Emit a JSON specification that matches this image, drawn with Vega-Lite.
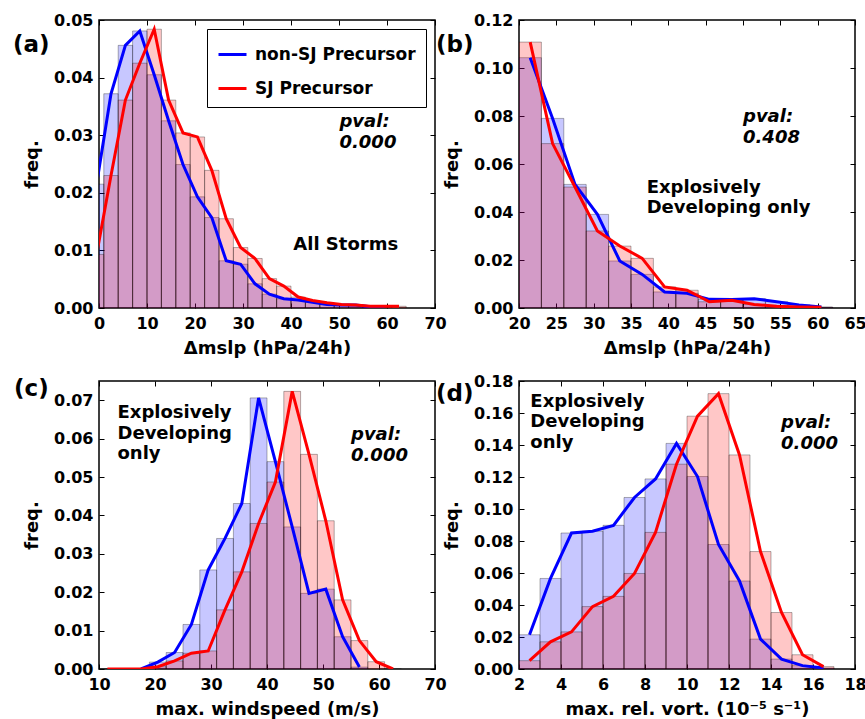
{
"$schema": "https://vega.github.io/schema/vega-lite/v6.json",
"padding": {"left": 12, "top": 11, "right": 2, "bottom": 2},
"columns": 2,
"bounds": "flush",
"spacing": {"row": 73, "column": 84},
"resolve": {"scale": {"color": "independent", "x": "independent", "y": "independent"}, "legend": {"color": "independent"}},
"datasets": {
"da": [
{"s":"non-SJ Precursor","b0":-2,"b1":1,"m":-0.5,"f":0.0215},
{"s":"non-SJ Precursor","b0":1,"b1":4,"m":2.5,"f":0.0372},
{"s":"non-SJ Precursor","b0":4,"b1":7,"m":5.5,"f":0.0456},
{"s":"non-SJ Precursor","b0":7,"b1":10,"m":8.5,"f":0.0481},
{"s":"non-SJ Precursor","b0":10,"b1":13,"m":11.5,"f":0.0405},
{"s":"non-SJ Precursor","b0":13,"b1":16,"m":14.5,"f":0.0325},
{"s":"non-SJ Precursor","b0":16,"b1":19,"m":17.5,"f":0.0249},
{"s":"non-SJ Precursor","b0":19,"b1":22,"m":20.5,"f":0.0193},
{"s":"non-SJ Precursor","b0":22,"b1":25,"m":23.5,"f":0.0157},
{"s":"non-SJ Precursor","b0":25,"b1":28,"m":26.5,"f":0.0082},
{"s":"non-SJ Precursor","b0":28,"b1":31,"m":29.5,"f":0.0076},
{"s":"non-SJ Precursor","b0":31,"b1":34,"m":32.5,"f":0.0042},
{"s":"non-SJ Precursor","b0":34,"b1":37,"m":35.5,"f":0.0024},
{"s":"non-SJ Precursor","b0":37,"b1":40,"m":38.5,"f":0.0016},
{"s":"non-SJ Precursor","b0":40,"b1":43,"m":41.5,"f":0.0014},
{"s":"non-SJ Precursor","b0":43,"b1":46,"m":44.5,"f":0.0010},
{"s":"non-SJ Precursor","b0":46,"b1":49,"m":47.5,"f":0.0006},
{"s":"non-SJ Precursor","b0":49,"b1":52,"m":50.5,"f":0.0005},
{"s":"non-SJ Precursor","b0":52,"b1":55,"m":53.5,"f":0.0005},
{"s":"non-SJ Precursor","b0":55,"b1":58,"m":56.5,"f":0.0002},
{"s":"non-SJ Precursor","b0":58,"b1":61,"m":59.5,"f":0.0001},
{"s":"SJ Precursor","b0":-2,"b1":1,"m":-0.5,"f":0.0093},
{"s":"SJ Precursor","b0":1,"b1":4,"m":2.5,"f":0.0230},
{"s":"SJ Precursor","b0":4,"b1":7,"m":5.5,"f":0.0361},
{"s":"SJ Precursor","b0":7,"b1":10,"m":8.5,"f":0.0425},
{"s":"SJ Precursor","b0":10,"b1":13,"m":11.5,"f":0.0484},
{"s":"SJ Precursor","b0":13,"b1":16,"m":14.5,"f":0.0361},
{"s":"SJ Precursor","b0":16,"b1":19,"m":17.5,"f":0.0304},
{"s":"SJ Precursor","b0":19,"b1":22,"m":20.5,"f":0.0297},
{"s":"SJ Precursor","b0":22,"b1":25,"m":23.5,"f":0.0239},
{"s":"SJ Precursor","b0":25,"b1":28,"m":26.5,"f":0.0155},
{"s":"SJ Precursor","b0":28,"b1":31,"m":29.5,"f":0.0105},
{"s":"SJ Precursor","b0":31,"b1":34,"m":32.5,"f":0.0086},
{"s":"SJ Precursor","b0":34,"b1":37,"m":35.5,"f":0.0051},
{"s":"SJ Precursor","b0":37,"b1":40,"m":38.5,"f":0.0038},
{"s":"SJ Precursor","b0":40,"b1":43,"m":41.5,"f":0.0019},
{"s":"SJ Precursor","b0":43,"b1":46,"m":44.5,"f":0.0013},
{"s":"SJ Precursor","b0":46,"b1":49,"m":47.5,"f":0.0009},
{"s":"SJ Precursor","b0":49,"b1":52,"m":50.5,"f":0.0006},
{"s":"SJ Precursor","b0":52,"b1":55,"m":53.5,"f":0.0005},
{"s":"SJ Precursor","b0":55,"b1":58,"m":56.5,"f":0.0003},
{"s":"SJ Precursor","b0":58,"b1":61,"m":59.5,"f":0.0003},
{"s":"SJ Precursor","b0":61,"b1":64,"m":62.5,"f":0.0003}
],
"db": [
{"s":"non-SJ Precursor","b0":20,"b1":23,"m":21.5,"f":0.1043},
{"s":"non-SJ Precursor","b0":23,"b1":26,"m":24.5,"f":0.0790},
{"s":"non-SJ Precursor","b0":26,"b1":29,"m":27.5,"f":0.0515},
{"s":"non-SJ Precursor","b0":29,"b1":32,"m":30.5,"f":0.0390},
{"s":"non-SJ Precursor","b0":32,"b1":35,"m":33.5,"f":0.0196},
{"s":"non-SJ Precursor","b0":35,"b1":38,"m":36.5,"f":0.0140},
{"s":"non-SJ Precursor","b0":38,"b1":41,"m":39.5,"f":0.0067},
{"s":"non-SJ Precursor","b0":41,"b1":44,"m":42.5,"f":0.0061},
{"s":"non-SJ Precursor","b0":44,"b1":47,"m":45.5,"f":0.0036},
{"s":"non-SJ Precursor","b0":47,"b1":50,"m":48.5,"f":0.0035},
{"s":"non-SJ Precursor","b0":50,"b1":53,"m":51.5,"f":0.0039},
{"s":"non-SJ Precursor","b0":53,"b1":56,"m":54.5,"f":0.0026},
{"s":"non-SJ Precursor","b0":56,"b1":59,"m":57.5,"f":0.0013},
{"s":"non-SJ Precursor","b0":59,"b1":62,"m":60.5,"f":0.0004},
{"s":"SJ Precursor","b0":20,"b1":23,"m":21.5,"f":0.1108},
{"s":"SJ Precursor","b0":23,"b1":26,"m":24.5,"f":0.0685},
{"s":"SJ Precursor","b0":26,"b1":29,"m":27.5,"f":0.0504},
{"s":"SJ Precursor","b0":29,"b1":32,"m":30.5,"f":0.0321},
{"s":"SJ Precursor","b0":32,"b1":35,"m":33.5,"f":0.0258},
{"s":"SJ Precursor","b0":35,"b1":38,"m":36.5,"f":0.0207},
{"s":"SJ Precursor","b0":38,"b1":41,"m":39.5,"f":0.0088},
{"s":"SJ Precursor","b0":41,"b1":44,"m":42.5,"f":0.0074},
{"s":"SJ Precursor","b0":44,"b1":47,"m":45.5,"f":0.0026},
{"s":"SJ Precursor","b0":47,"b1":50,"m":48.5,"f":0.0032},
{"s":"SJ Precursor","b0":50,"b1":53,"m":51.5,"f":0.0015},
{"s":"SJ Precursor","b0":53,"b1":56,"m":54.5,"f":0.0007},
{"s":"SJ Precursor","b0":56,"b1":59,"m":57.5,"f":0.0004},
{"s":"SJ Precursor","b0":59,"b1":62,"m":60.5,"f":0.0003}
],
"dc": [
{"s":"non-SJ Precursor","b0":16,"b1":19,"m":17.5,"f":0},
{"s":"non-SJ Precursor","b0":19,"b1":22,"m":20.5,"f":0.0018},
{"s":"non-SJ Precursor","b0":22,"b1":25,"m":23.5,"f":0.0043},
{"s":"non-SJ Precursor","b0":25,"b1":28,"m":26.5,"f":0.0116},
{"s":"non-SJ Precursor","b0":28,"b1":31,"m":29.5,"f":0.0258},
{"s":"non-SJ Precursor","b0":31,"b1":34,"m":32.5,"f":0.0340},
{"s":"non-SJ Precursor","b0":34,"b1":37,"m":35.5,"f":0.0431},
{"s":"non-SJ Precursor","b0":37,"b1":40,"m":38.5,"f":0.0706},
{"s":"non-SJ Precursor","b0":40,"b1":43,"m":41.5,"f":0.0540},
{"s":"non-SJ Precursor","b0":43,"b1":46,"m":44.5,"f":0.0370},
{"s":"non-SJ Precursor","b0":46,"b1":49,"m":47.5,"f":0.0197},
{"s":"non-SJ Precursor","b0":49,"b1":52,"m":50.5,"f":0.0208},
{"s":"non-SJ Precursor","b0":52,"b1":55,"m":53.5,"f":0.0084},
{"s":"non-SJ Precursor","b0":55,"b1":58,"m":56.5,"f":0.0005},
{"s":"SJ Precursor","b0":10,"b1":13,"m":11.5,"f":0},
{"s":"SJ Precursor","b0":13,"b1":16,"m":14.5,"f":0},
{"s":"SJ Precursor","b0":16,"b1":19,"m":17.5,"f":0},
{"s":"SJ Precursor","b0":19,"b1":22,"m":20.5,"f":0.0006},
{"s":"SJ Precursor","b0":22,"b1":25,"m":23.5,"f":0.0021},
{"s":"SJ Precursor","b0":25,"b1":28,"m":26.5,"f":0.0041},
{"s":"SJ Precursor","b0":28,"b1":31,"m":29.5,"f":0.0047},
{"s":"SJ Precursor","b0":31,"b1":34,"m":32.5,"f":0.0154},
{"s":"SJ Precursor","b0":34,"b1":37,"m":35.5,"f":0.0253},
{"s":"SJ Precursor","b0":37,"b1":40,"m":38.5,"f":0.0379},
{"s":"SJ Precursor","b0":40,"b1":43,"m":41.5,"f":0.0487},
{"s":"SJ Precursor","b0":43,"b1":46,"m":44.5,"f":0.0723},
{"s":"SJ Precursor","b0":46,"b1":49,"m":47.5,"f":0.0559},
{"s":"SJ Precursor","b0":49,"b1":52,"m":50.5,"f":0.0386},
{"s":"SJ Precursor","b0":52,"b1":55,"m":53.5,"f":0.0180},
{"s":"SJ Precursor","b0":55,"b1":58,"m":56.5,"f":0.0074},
{"s":"SJ Precursor","b0":58,"b1":61,"m":59.5,"f":0.0019},
{"s":"SJ Precursor","b0":61,"b1":64,"m":62.5,"f":0}
],
"dd": [
{"s":"non-SJ Precursor","b0":2,"b1":3,"m":2.5,"f":0.0214},
{"s":"non-SJ Precursor","b0":3,"b1":4,"m":3.5,"f":0.0566},
{"s":"non-SJ Precursor","b0":4,"b1":5,"m":4.5,"f":0.0850},
{"s":"non-SJ Precursor","b0":5,"b1":6,"m":5.5,"f":0.0861},
{"s":"non-SJ Precursor","b0":6,"b1":7,"m":6.5,"f":0.0898},
{"s":"non-SJ Precursor","b0":7,"b1":8,"m":7.5,"f":0.1072},
{"s":"non-SJ Precursor","b0":8,"b1":9,"m":8.5,"f":0.1188},
{"s":"non-SJ Precursor","b0":9,"b1":10,"m":9.5,"f":0.1410},
{"s":"non-SJ Precursor","b0":10,"b1":11,"m":10.5,"f":0.1203},
{"s":"non-SJ Precursor","b0":11,"b1":12,"m":11.5,"f":0.0778},
{"s":"non-SJ Precursor","b0":12,"b1":13,"m":12.5,"f":0.0550},
{"s":"non-SJ Precursor","b0":13,"b1":14,"m":13.5,"f":0.0187},
{"s":"non-SJ Precursor","b0":14,"b1":15,"m":14.5,"f":0.0062},
{"s":"non-SJ Precursor","b0":15,"b1":16,"m":15.5,"f":0.0021},
{"s":"non-SJ Precursor","b0":16,"b1":17,"m":16.5,"f":0.0006},
{"s":"SJ Precursor","b0":2,"b1":3,"m":2.5,"f":0.0052},
{"s":"SJ Precursor","b0":3,"b1":4,"m":3.5,"f":0.0170},
{"s":"SJ Precursor","b0":4,"b1":5,"m":4.5,"f":0.0232},
{"s":"SJ Precursor","b0":5,"b1":6,"m":5.5,"f":0.0390},
{"s":"SJ Precursor","b0":6,"b1":7,"m":6.5,"f":0.0454},
{"s":"SJ Precursor","b0":7,"b1":8,"m":7.5,"f":0.0597},
{"s":"SJ Precursor","b0":8,"b1":9,"m":8.5,"f":0.0854},
{"s":"SJ Precursor","b0":9,"b1":10,"m":9.5,"f":0.1280},
{"s":"SJ Precursor","b0":10,"b1":11,"m":10.5,"f":0.1580},
{"s":"SJ Precursor","b0":11,"b1":12,"m":11.5,"f":0.1721},
{"s":"SJ Precursor","b0":12,"b1":13,"m":12.5,"f":0.1338},
{"s":"SJ Precursor","b0":13,"b1":14,"m":13.5,"f":0.0734},
{"s":"SJ Precursor","b0":14,"b1":15,"m":14.5,"f":0.0353},
{"s":"SJ Precursor","b0":15,"b1":16,"m":15.5,"f":0.0089},
{"s":"SJ Precursor","b0":16,"b1":17,"m":16.5,"f":0.0015}
]
},
"concat": [
{
"width": 336, "height": 288,
"title": {"text": "(a)", "anchor": "start", "frame": "group", "orient": "top", "baseline": "top", "offset": 0, "dx": -86, "dy": 45, "fontSize": 23, "font": "DejaVu Sans", "fontWeight": "bold", "color": "#000"},
"data": {"name": "da"},
"resolve": {"axis": {"x": "independent", "y": "independent"}},
"layer": [
{"transform": [{"filter": {"field": "s", "equal": "non-SJ Precursor"}}],
 "mark": {"type": "rect", "clip": true, "fill": "#0000ff", "fillOpacity": 0.22, "stroke": "#000", "strokeOpacity": 0.3, "strokeWidth": 1},
 "encoding": {
  "x": {"field": "b0", "type": "quantitative", "scale": {"domain": [0, 70]}, "axis": {"orient": "bottom", "values": [0,10,20,30,40,50,60,70], "title": "Δmslp (hPa/24h)"}},
  "x2": {"field": "b1"},
  "y": {"field": "f", "type": "quantitative", "scale": {"domain": [0, 0.05]}, "axis": {"orient": "left", "values": [0,0.01,0.02,0.03,0.04,0.05], "format": ".2f", "title": "freq."}},
  "y2": {"datum": 0}}},
{"transform": [{"filter": {"field": "s", "equal": "SJ Precursor"}}],
 "mark": {"type": "rect", "clip": true, "fill": "#ff0000", "fillOpacity": 0.22, "stroke": "#000", "strokeOpacity": 0.3, "strokeWidth": 1},
 "encoding": {
  "x": {"field": "b0", "type": "quantitative", "scale": {"domain": [0, 70]}, "axis": {"orient": "top", "values": [0,10,20,30,40,50,60,70], "labels": false, "title": null}},
  "x2": {"field": "b1"},
  "y": {"field": "f", "type": "quantitative", "scale": {"domain": [0, 0.05]}, "axis": {"orient": "right", "values": [0,0.01,0.02,0.03,0.04,0.05], "labels": false, "title": null}},
  "y2": {"datum": 0}}},
{"mark": {"type": "line", "clip": true, "strokeWidth": 3},
 "encoding": {
  "x": {"field": "m", "type": "quantitative", "scale": {"domain": [0, 70]}, "axis": null},
  "y": {"field": "f", "type": "quantitative", "scale": {"domain": [0, 0.05]}, "axis": null},
  "color": {"field": "s", "type": "nominal", "scale": {"domain": ["non-SJ Precursor", "SJ Precursor"], "range": ["#0000ff", "#ff0000"]},
   "legend": {"title": null, "orient": "top-right", "offset": 9, "symbolType": "stroke", "symbolSize": 784, "symbolStrokeWidth": 3, "labelFont": "DejaVu Sans", "labelFontWeight": "bold", "labelFontSize": 17, "labelColor": "#000", "labelLimit": 0, "strokeColor": "#000", "fillColor": "#fff", "padding": 10, "rowPadding": 10, "labelOffset": 7, "cornerRadius": 0}}}},
{"data": {"values": [{}]},
 "mark": {"type": "text", "align": "left", "baseline": "top", "fontStyle": "italic", "lineHeight": 21},
 "encoding": {
  "x": {"datum": 50.1, "type": "quantitative", "scale": {"domain": [0, 70]}, "axis": null},
  "y": {"datum": 0.0339, "type": "quantitative", "scale": {"domain": [0, 0.05]}, "axis": null},
  "text": {"value": ["pval:", "0.000"]}}},
{"data": {"values": [{}]},
 "mark": {"type": "text", "align": "center", "baseline": "middle"},
 "encoding": {
  "x": {"datum": 51.4, "type": "quantitative", "scale": {"domain": [0, 70]}, "axis": null},
  "y": {"datum": 0.0110, "type": "quantitative", "scale": {"domain": [0, 0.05]}, "axis": null},
  "text": {"value": "All Storms"}}}
]
},
{
"width": 336, "height": 288,
"title": {"text": "(b)", "anchor": "start", "frame": "group", "orient": "top", "baseline": "top", "offset": 0, "dx": -83, "dy": 45, "fontSize": 23, "font": "DejaVu Sans", "fontWeight": "bold", "color": "#000"},
"data": {"name": "db"},
"resolve": {"axis": {"x": "independent", "y": "independent"}},
"layer": [
{"transform": [{"filter": {"field": "s", "equal": "non-SJ Precursor"}}],
 "mark": {"type": "rect", "clip": true, "fill": "#0000ff", "fillOpacity": 0.22, "stroke": "#000", "strokeOpacity": 0.3, "strokeWidth": 1},
 "encoding": {
  "x": {"field": "b0", "type": "quantitative", "scale": {"domain": [20, 65]}, "axis": {"orient": "bottom", "values": [20,25,30,35,40,45,50,55,60,65], "title": "Δmslp (hPa/24h)"}},
  "x2": {"field": "b1"},
  "y": {"field": "f", "type": "quantitative", "scale": {"domain": [0, 0.12]}, "axis": {"orient": "left", "values": [0,0.02,0.04,0.06,0.08,0.1,0.12], "format": ".2f", "title": "freq."}},
  "y2": {"datum": 0}}},
{"transform": [{"filter": {"field": "s", "equal": "SJ Precursor"}}],
 "mark": {"type": "rect", "clip": true, "fill": "#ff0000", "fillOpacity": 0.22, "stroke": "#000", "strokeOpacity": 0.3, "strokeWidth": 1},
 "encoding": {
  "x": {"field": "b0", "type": "quantitative", "scale": {"domain": [20, 65]}, "axis": {"orient": "top", "values": [20,25,30,35,40,45,50,55,60,65], "labels": false, "title": null}},
  "x2": {"field": "b1"},
  "y": {"field": "f", "type": "quantitative", "scale": {"domain": [0, 0.12]}, "axis": {"orient": "right", "values": [0,0.02,0.04,0.06,0.08,0.1,0.12], "labels": false, "title": null}},
  "y2": {"datum": 0}}},
{"mark": {"type": "line", "clip": true, "strokeWidth": 3},
 "encoding": {
  "x": {"field": "m", "type": "quantitative", "scale": {"domain": [20, 65]}, "axis": null},
  "y": {"field": "f", "type": "quantitative", "scale": {"domain": [0, 0.12]}, "axis": null},
  "color": {"field": "s", "type": "nominal", "scale": {"domain": ["non-SJ Precursor", "SJ Precursor"], "range": ["#0000ff", "#ff0000"]}, "legend": null}}},
{"data": {"values": [{}]},
 "mark": {"type": "text", "align": "left", "baseline": "top", "fontStyle": "italic", "lineHeight": 21},
 "encoding": {
  "x": {"datum": 50.0, "type": "quantitative", "scale": {"domain": [20, 65]}, "axis": null},
  "y": {"datum": 0.0833, "type": "quantitative", "scale": {"domain": [0, 0.12]}, "axis": null},
  "text": {"value": ["pval:", "0.408"]}}},
{"data": {"values": [{}]},
 "mark": {"type": "text", "align": "left", "baseline": "top", "lineHeight": 20},
 "encoding": {
  "x": {"datum": 37.1, "type": "quantitative", "scale": {"domain": [20, 65]}, "axis": null},
  "y": {"datum": 0.0537, "type": "quantitative", "scale": {"domain": [0, 0.12]}, "axis": null},
  "text": {"value": ["Explosively", "Developing only"]}}}
]
},
{
"width": 336, "height": 288,
"title": {"text": "(c)", "anchor": "start", "frame": "group", "orient": "top", "baseline": "top", "offset": 0, "dx": -85, "dy": 20, "fontSize": 23, "font": "DejaVu Sans", "fontWeight": "bold", "color": "#000"},
"data": {"name": "dc"},
"resolve": {"axis": {"x": "independent", "y": "independent"}},
"layer": [
{"transform": [{"filter": {"field": "s", "equal": "non-SJ Precursor"}}],
 "mark": {"type": "rect", "clip": true, "fill": "#0000ff", "fillOpacity": 0.22, "stroke": "#000", "strokeOpacity": 0.3, "strokeWidth": 1},
 "encoding": {
  "x": {"field": "b0", "type": "quantitative", "scale": {"domain": [10, 70]}, "axis": {"orient": "bottom", "values": [10,20,30,40,50,60,70], "title": "max. windspeed (m/s)"}},
  "x2": {"field": "b1"},
  "y": {"field": "f", "type": "quantitative", "scale": {"domain": [0, 0.075]}, "axis": {"orient": "left", "values": [0,0.01,0.02,0.03,0.04,0.05,0.06,0.07], "format": ".2f", "title": "freq."}},
  "y2": {"datum": 0}}},
{"transform": [{"filter": {"field": "s", "equal": "SJ Precursor"}}],
 "mark": {"type": "rect", "clip": true, "fill": "#ff0000", "fillOpacity": 0.22, "stroke": "#000", "strokeOpacity": 0.3, "strokeWidth": 1},
 "encoding": {
  "x": {"field": "b0", "type": "quantitative", "scale": {"domain": [10, 70]}, "axis": {"orient": "top", "values": [10,20,30,40,50,60,70], "labels": false, "title": null}},
  "x2": {"field": "b1"},
  "y": {"field": "f", "type": "quantitative", "scale": {"domain": [0, 0.075]}, "axis": {"orient": "right", "values": [0,0.01,0.02,0.03,0.04,0.05,0.06,0.07], "labels": false, "title": null}},
  "y2": {"datum": 0}}},
{"mark": {"type": "line", "clip": true, "strokeWidth": 3},
 "encoding": {
  "x": {"field": "m", "type": "quantitative", "scale": {"domain": [10, 70]}, "axis": null},
  "y": {"field": "f", "type": "quantitative", "scale": {"domain": [0, 0.075]}, "axis": null},
  "color": {"field": "s", "type": "nominal", "scale": {"domain": ["non-SJ Precursor", "SJ Precursor"], "range": ["#0000ff", "#ff0000"]}, "legend": null}}},
{"data": {"values": [{}]},
 "mark": {"type": "text", "align": "left", "baseline": "top", "fontStyle": "italic", "lineHeight": 21},
 "encoding": {
  "x": {"datum": 55.0, "type": "quantitative", "scale": {"domain": [10, 70]}, "axis": null},
  "y": {"datum": 0.0633, "type": "quantitative", "scale": {"domain": [0, 0.075]}, "axis": null},
  "text": {"value": ["pval:", "0.000"]}}},
{"data": {"values": [{}]},
 "mark": {"type": "text", "align": "left", "baseline": "top", "lineHeight": 20.5},
 "encoding": {
  "x": {"datum": 13.3, "type": "quantitative", "scale": {"domain": [10, 70]}, "axis": null},
  "y": {"datum": 0.0690, "type": "quantitative", "scale": {"domain": [0, 0.075]}, "axis": null},
  "text": {"value": ["Explosively", "Developing", "only"]}}}
]
},
{
"width": 336, "height": 288,
"title": {"text": "(d)", "anchor": "start", "frame": "group", "orient": "top", "baseline": "top", "offset": 0, "dx": -83, "dy": 33, "fontSize": 23, "font": "DejaVu Sans", "fontWeight": "bold", "color": "#000"},
"data": {"name": "dd"},
"resolve": {"axis": {"x": "independent", "y": "independent"}},
"layer": [
{"transform": [{"filter": {"field": "s", "equal": "non-SJ Precursor"}}],
 "mark": {"type": "rect", "clip": true, "fill": "#0000ff", "fillOpacity": 0.22, "stroke": "#000", "strokeOpacity": 0.3, "strokeWidth": 1},
 "encoding": {
  "x": {"field": "b0", "type": "quantitative", "scale": {"domain": [2, 18]}, "axis": {"orient": "bottom", "values": [2,4,6,8,10,12,14,16,18], "title": "max. rel. vort. (10⁻⁵ s⁻¹)"}},
  "x2": {"field": "b1"},
  "y": {"field": "f", "type": "quantitative", "scale": {"domain": [0, 0.18]}, "axis": {"orient": "left", "values": [0,0.02,0.04,0.06,0.08,0.1,0.12,0.14,0.16,0.18], "format": ".2f", "title": "freq."}},
  "y2": {"datum": 0}}},
{"transform": [{"filter": {"field": "s", "equal": "SJ Precursor"}}],
 "mark": {"type": "rect", "clip": true, "fill": "#ff0000", "fillOpacity": 0.22, "stroke": "#000", "strokeOpacity": 0.3, "strokeWidth": 1},
 "encoding": {
  "x": {"field": "b0", "type": "quantitative", "scale": {"domain": [2, 18]}, "axis": {"orient": "top", "values": [2,4,6,8,10,12,14,16,18], "labels": false, "title": null}},
  "x2": {"field": "b1"},
  "y": {"field": "f", "type": "quantitative", "scale": {"domain": [0, 0.18]}, "axis": {"orient": "right", "values": [0,0.02,0.04,0.06,0.08,0.1,0.12,0.14,0.16,0.18], "labels": false, "title": null}},
  "y2": {"datum": 0}}},
{"mark": {"type": "line", "clip": true, "strokeWidth": 3},
 "encoding": {
  "x": {"field": "m", "type": "quantitative", "scale": {"domain": [2, 18]}, "axis": null},
  "y": {"field": "f", "type": "quantitative", "scale": {"domain": [0, 0.18]}, "axis": null},
  "color": {"field": "s", "type": "nominal", "scale": {"domain": ["non-SJ Precursor", "SJ Precursor"], "range": ["#0000ff", "#ff0000"]}, "legend": null}}},
{"data": {"values": [{}]},
 "mark": {"type": "text", "align": "left", "baseline": "top", "fontStyle": "italic", "lineHeight": 21},
 "encoding": {
  "x": {"datum": 14.48, "type": "quantitative", "scale": {"domain": [2, 18]}, "axis": null},
  "y": {"datum": 0.1592, "type": "quantitative", "scale": {"domain": [0, 0.18]}, "axis": null},
  "text": {"value": ["pval:", "0.000"]}}},
{"data": {"values": [{}]},
 "mark": {"type": "text", "align": "left", "baseline": "top", "lineHeight": 20.5},
 "encoding": {
  "x": {"datum": 2.54, "type": "quantitative", "scale": {"domain": [2, 18]}, "axis": null},
  "y": {"datum": 0.1727, "type": "quantitative", "scale": {"domain": [0, 0.18]}, "axis": null},
  "text": {"value": ["Explosively", "Developing", "only"]}}}
]
}
],
"config": {
 "view": {"stroke": "#000", "strokeWidth": 1.5},
 "font": "DejaVu Sans",
 "axis": {"domain": false, "grid": false, "labelFont": "DejaVu Sans", "labelFontWeight": "bold", "labelFontSize": 16, "labelColor": "#000", "titleFont": "DejaVu Sans", "titleFontWeight": "bold", "titleFontSize": 18, "titleColor": "#000", "tickColor": "#000", "tickSize": -5, "tickWidth": 1, "labelOverlap": false, "labelFlush": false},
 "axisX": {"labelPadding": 12, "titlePadding": 8},
 "axisY": {"labelPadding": 11, "titlePadding": 12},
 "text": {"font": "DejaVu Sans", "fontWeight": "bold", "fontSize": 18, "color": "#000"}
}
}
